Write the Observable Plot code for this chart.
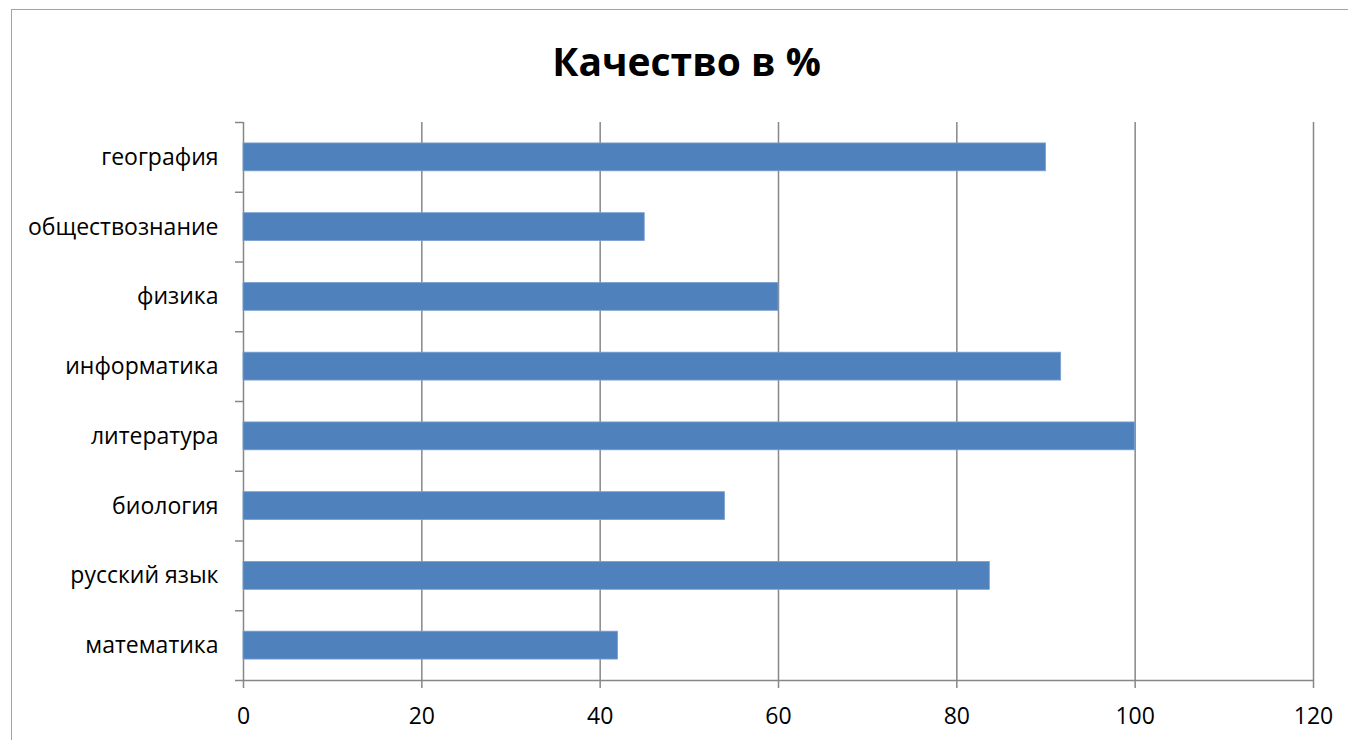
<!DOCTYPE html>
<html>
<head>
<meta charset="utf-8">
<script src="https://cdn.jsdelivr.net/npm/d3@7"></script>
<script src="https://cdn.jsdelivr.net/npm/@observablehq/plot@0.6"></script>
<style>
  html, body { margin: 0; padding: 0; background: #fff; overflow: hidden; }
  #border { position: absolute; left: 11px; top: 9px; width: 1400px; height: 800px; border: 1.5px solid #a3a3a3; box-sizing: border-box; }
  #wrap { position: absolute; left: 0; top: 0; width: 1348px; }
  #title { height: 98px; box-sizing: border-box; padding-top: 41px; padding-left: 25px; text-align: center;
           font-family: "Open Sans", sans-serif; font-weight: bold; font-size: 39px; line-height: 39px; color: #000; overflow: hidden; }
  #chart { height: 642px; }
  svg { display: block; }
</style>
</head>
<body>
<div id="border"></div>
<div id="wrap">
  <div id="title">Качество в %</div>
  <div id="chart"></div>
</div>
<script>
// Data (bottom to top as in the reference)
const subjects = ["математика", "русский язык", "биология", "литература", "информатика", "физика", "обществознание", "география"];
const quality = [42, 83.7, 54, 100, 91.7, 60, 45, 90];
const xTicks = [0, 20, 40, 60, 80, 100, 120];

const data = subjects.map((s, i) => ({subject: s, value: quality[i]}));
const yDomain = subjects.slice().reverse();

const W = 1348, H = 642;
const mL = 243, mR = 35, mT = 24, mB = 60;
const step = (H - mT - mB) / subjects.length;
const grey = "#878787";

const chart = Plot.plot({
  width: W,
  height: H,
  marginLeft: mL,
  marginRight: mR,
  marginTop: mT,
  marginBottom: mB,
  style: {fontFamily: "'Open Sans', sans-serif", fontSize: "23px", color: "#000", background: "transparent", overflow: "visible"},
  x: {domain: [0, 120], label: null},
  y: {domain: yDomain, paddingInner: 0.6, paddingOuter: 0.3, round: false, label: null},
  marks: [
    Plot.ruleX(xTicks, {stroke: grey, strokeWidth: 1.5}),
    Plot.barX(data, {y: "subject", x: "value", fill: "#4F81BD", stroke: "#7aa0d2", strokeWidth: 0.8}),
    Plot.ruleY([0], {y: () => yDomain[yDomain.length - 1], dy: step / 2, stroke: grey, strokeWidth: 1.5}),
    Plot.axisX({ticks: xTicks, tickSize: 8, tickPadding: 19, stroke: grey, strokeWidth: 1.5, fill: "#000", label: null, fontSize: 23}),
    Plot.axisY({tickSize: 0, tickPadding: 25, fill: "#000", label: null, fontSize: 23}),
    Plot.axisY(yDomain, {tickSize: 8, tickFormat: () => "", dy: -step / 2, stroke: grey, strokeWidth: 1.5, label: null}),
    Plot.axisY([yDomain[yDomain.length - 1]], {tickSize: 8, tickFormat: () => "", dy: step / 2, stroke: grey, strokeWidth: 1.5, label: null})
  ]
});
document.getElementById("chart").appendChild(chart);
</script>
</body>
</html>
